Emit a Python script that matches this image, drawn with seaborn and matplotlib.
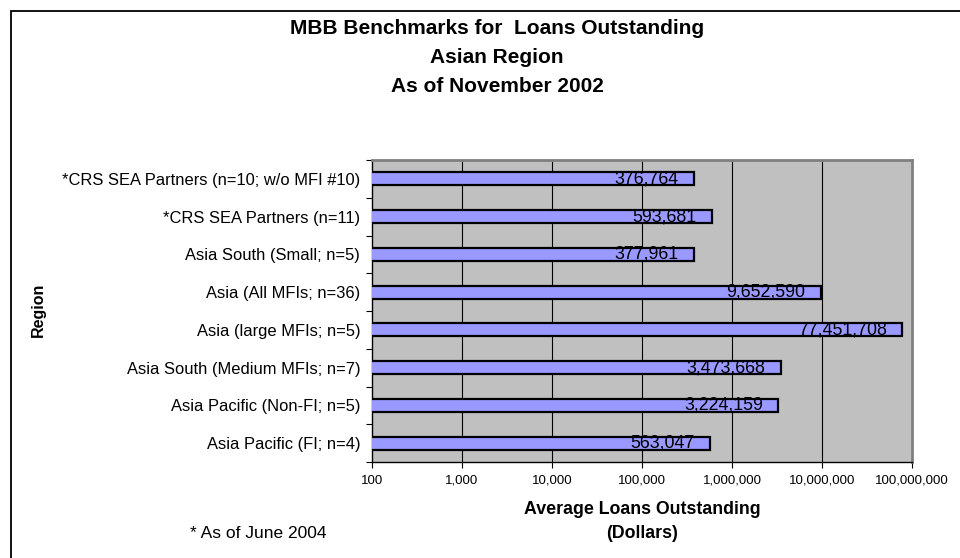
import matplotlib
matplotlib.use("Agg")
import matplotlib.pyplot as plt
import matplotlib.ticker as mticker
from matplotlib.patches import Rectangle
import seaborn as sns
import pandas as pd

categories = [
    "*CRS SEA Partners (n=10; w/o MFI #10)",
    "*CRS SEA Partners (n=11)",
    "Asia South (Small; n=5)",
    "Asia (All MFIs; n=36)",
    "Asia (large MFIs; n=5)",
    "Asia South (Medium MFIs; n=7)",
    "Asia Pacific (Non-FI; n=5)",
    "Asia Pacific (FI; n=4)",
]
loans = [376764, 593681, 377961, 9652590, 77451708, 3473668, 3224159, 563047]
x_ticks = [100, 1_000, 10_000, 100_000, 1_000_000, 10_000_000, 100_000_000]

df = pd.DataFrame({"Region": categories, "Loans": loans})

sns.set_theme(style="white")
plt.rcParams["font.family"] = ["Liberation Sans", "DejaVu Sans"]
plt.rcParams.update({"text.color": "black", "axes.labelcolor": "black",
                     "xtick.color": "black", "ytick.color": "black"})

W, H = 960, 558
fig = plt.figure(figsize=(W / 100, H / 100), dpi=100)
left, right, top, bottom = 372, 912, 160, 462
ax = fig.add_axes([left / W, 1 - bottom / H, (right - left) / W, (bottom - top) / H])

sns.barplot(data=df, x="Loans", y="Region", orient="h", color="#9999FF",
            saturation=1, width=0.345, edgecolor="black", linewidth=1.6,
            ax=ax, zorder=3)
ax.set_xscale("log")
ax.set_xlim(100, 100_000_000)
ax.set_ylim(len(categories) - 0.5, -0.5)
ax.set_facecolor("#C0C0C0")

# vertical gridlines at each decade
ax.set_xticks(x_ticks)
ax.xaxis.set_major_formatter(mticker.FuncFormatter(lambda v, _: f"{v:,.0f}"))
ax.xaxis.set_minor_locator(mticker.NullLocator())
for v in x_ticks[1:-1]:
    ax.axvline(v, color="black", linewidth=0.8, zorder=1)

# category labels at centres, tick marks at boundaries
ax.set_yticks(range(len(categories)))
ax.set_yticklabels(categories)
ax.set_yticks([i - 0.5 for i in range(len(categories) + 1)], minor=True)
ax.tick_params(axis="y", which="major", length=0, pad=8.5, labelsize=11.9)
ax.tick_params(axis="y", which="minor", length=4, width=0.8, color="black",
               direction="out", left=True)
ax.tick_params(axis="x", which="major", length=4, width=0.8, color="black",
               direction="out", bottom=True, labelsize=9.5, pad=5)

for side in ("left", "bottom"):
    ax.spines[side].set_color("black")
    ax.spines[side].set_linewidth(1.0)
for side in ("top", "right"):
    ax.spines[side].set_visible(True)
    ax.spines[side].set_color("#808080")
    ax.spines[side].set_linewidth(2)

for i, v in enumerate(loans):
    ax.annotate(f"{v:,}", xy=(v, i), xytext=(-15, 0), textcoords="offset pixels",
                ha="right", va="center", fontsize=12.8, zorder=4)

ax.set_xlabel("")
ax.set_ylabel("")

fig.text(38 / W, 1 - 310 / H, "Region", rotation=90, ha="center",
         va="center", fontsize=11.5, fontweight="bold")
fig.text(642 / W, 1 - 510 / H, "Average Loans Outstanding", ha="center",
         va="center", fontsize=12.8, fontweight="bold")
fig.text(642 / W, 1 - 533 / H, "(Dollars)", ha="center", va="center",
         fontsize=12.8, fontweight="bold")
fig.text(258 / W, 1 - 534 / H, "* As of June 2004", ha="center",
         va="center", fontsize=12.5)

titles = ["MBB Benchmarks for  Loans Outstanding", "Asian Region",
          "As of November 2002"]
for k, t in enumerate(titles):
    fig.text(497 / W, 1 - (29 + 28.5 * k) / H, t, ha="center", va="center",
             fontsize=15, fontweight="bold")

# outer chart border
fig.patches.append(Rectangle((11 / W, -0.1), 1.2, 1.1 - 11.5 / H,
                             transform=fig.transFigure, fill=False,
                             edgecolor="black", linewidth=1.3))

fig.savefig("out.png", dpi=100, facecolor="white")
